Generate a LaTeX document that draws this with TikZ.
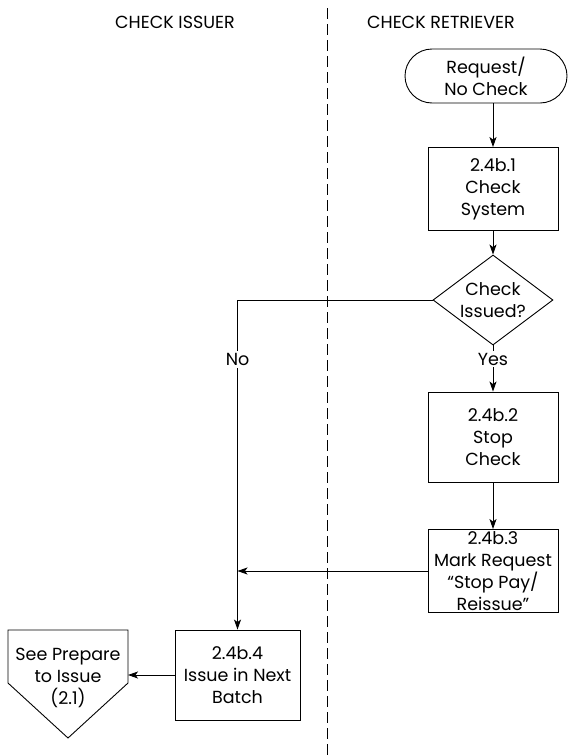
\documentclass[tikz,border=0pt]{standalone}
\usepackage{fontspec}
\setmainfont{Poppins}
\usepackage{tikz}
\usetikzlibrary{arrows.meta,positioning,calc,shapes.geometric}

\begin{document}
\begin{tikzpicture}[x=1pt,y=-1pt,line width=0.9pt,
  txt/.style={font=\fontsize{17.5}{22}\selectfont,align=center,inner sep=0pt},
  procbox/.style={txt,draw,minimum width=130pt,minimum height=85pt},
  termbox/.style={txt,draw,rounded corners=27pt,minimum width=162pt,minimum height=54pt},
  decision/.style={draw,diamond,minimum width=120pt,minimum height=90pt,inner sep=0pt},
  flow/.style={-{Stealth[length=10pt,width=7pt,inset=2.5pt]}},
  lbl/.style={txt,fill=white,inner sep=2pt}]
\useasboundingbox (0,0) rectangle (581,755);
\draw[dashed,dash pattern=on 11pt off 5pt,line width=0.8pt] (327,8) -- (327,755);
\node[txt] (issuer) at (175,22) {CHECK ISSUER};
\node[txt] (retriever) at (441,22) {CHECK RETRIEVER};
\node[termbox] (req) at (486,76) {Request/\\No Check};
\node[procbox,minimum height=83pt] (b1) at (493,189) {2.4b.1\\Check\\System};
\node[decision] (chk) at (493,300) {};
\node[txt] (chktxt) at (chk) {Check\\Issued?};
\node[procbox,minimum height=90pt] (b2) at (493,437) {2.4b.2\\Stop\\Check};
\node[procbox,minimum height=83pt] (b3) at (493,571) {2.4b.3\\Mark Request\\``Stop Pay/\\Reissue''};
\node[procbox,minimum width=125pt,minimum height=90pt] (b4) at (237.5,675) {2.4b.4\\Issue in Next\\Batch};
\node[txt,minimum width=120pt] (see) at (68,678) {See Prepare\\to Issue\\(2.1)};
\draw ($(see.center)+(-60,-48)$) -- ($(see.center)+(60,-48)$) -- ($(see.center)+(60,5)$)
  -- ($(see.center)+(0,60)$) -- ($(see.center)+(-60,5)$) -- cycle;
% flow
\draw[flow] (req.south -| b1.north) -- (b1.north);
\draw[flow] (b1) -- (chk);
\draw[flow] (chk.south) -- node[lbl,pos=0.3] {Yes} (b2.north);
\draw[flow] (b2) -- (b3);
\draw[flow] (chk.west) -| node[lbl,pos=0.59] {No} (b4.north);
\draw[flow] (b3.west) -- (b3.west -| b4.north);
\draw[flow] (b4.west) -- (b4.west -| {$(see.center)+(60,0)$});
\end{tikzpicture}
\end{document}
